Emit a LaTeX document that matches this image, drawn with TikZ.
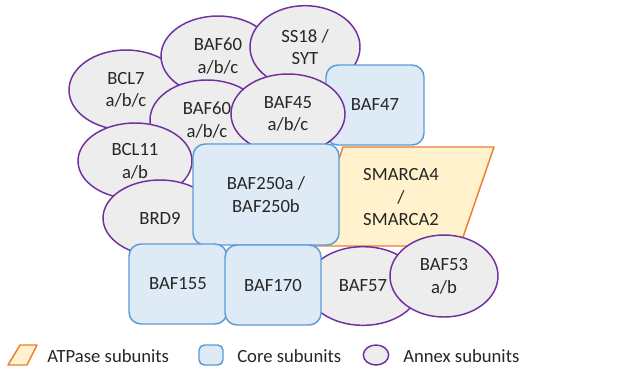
\documentclass[tikz,border=0pt]{standalone}
\usepackage{fontspec}
\setmainfont{Carlito}
\usetikzlibrary{shapes.geometric}

\definecolor{annexfill}{RGB}{237,237,237}
\definecolor{annexline}{RGB}{112,48,160}
\definecolor{corefill}{RGB}{222,235,247}
\definecolor{coreline}{RGB}{91,155,213}
\definecolor{atpfill}{RGB}{255,242,204}
\definecolor{atpline}{RGB}{237,125,49}
\definecolor{labeltext}{RGB}{38,38,38}

\newcommand{\subfont}{\fontsize{14}{17}\selectfont}

\tikzset{
  annex/.style={ellipse, draw=annexline, fill=annexfill, line width=1.1pt,
    minimum width=85.5pt, minimum height=60pt, inner sep=0pt,
    align=center, text=labeltext, font=\subfont},
  core/.style={rectangle, rounded corners=9pt, draw=coreline, fill=corefill,
    line width=1.1pt, inner sep=0pt, align=center, text=labeltext, font=\subfont},
  atpase/.style={draw=atpline, fill=atpfill, line width=1.1pt, line join=round},
  keytext/.style={anchor=west, inner sep=0pt, text=labeltext, font=\subfont},
}

\begin{document}
\begin{tikzpicture}[x=0.75pt,y=0.75pt,yscale=-1,xscale=1]
\useasboundingbox (0,0) rectangle (632,376);

%Shape: Ellipse [annex, back row]
\node[annex] (bclseven) at (126,90) {BCL7\\a/b/c};
\node[annex] (bafsixtyup) at (218,56) {BAF60\\a/b/c};
\node[annex, minimum width=82.5pt, minimum height=62pt] (ssyt) at (305,47) {SS18 /\\SYT};
\node[annex] (bafsixtylow) at (207,120) {BAF60\\a/b/c};
%Shape: Rounded Rect [core]
\node[core, minimum width=73.5pt, minimum height=60pt] (baffortyseven) at (375,105) {BAF47};
%Shape: Ellipse [annex, middle row]
\node[annex] (baffortyfive) at (288,114) {BAF45\\a/b/c};
\node[annex, minimum height=57pt] (bcleleven) at (135,161) {BCL11\\a/b};
\node[annex, minimum height=57pt] (brdnine) at (160,218) {BRD9};

%Shape: Parallelogram [ATPase]
\draw[atpase] (343,147) -- (494,147) -- (460,246) -- (309,246) -- cycle;
% Text Node
\node[align=center, text=labeltext, font=\subfont] (smarca) at (401,197) {SMARCA4\\/\\SMARCA2};

%Shape: Rounded Rect [core]
\node[core, minimum width=109.5pt, minimum height=75.75pt] (baftwofifty) at (266,194.5) {BAF250a /\\BAF250b};

%Shape: Ellipse [annex, front row]
\node[annex, minimum height=59pt] (baffiftyseven) at (363,286) {BAF57};
\node[annex, minimum width=81pt, minimum height=61.5pt] (baffiftythree) at (444,276) {BAF53\\a/b};

%Shape: Rounded Rect [core, front row]
\node[core, minimum width=73.5pt, minimum height=60pt] (baffiftyfive) at (178,284) {BAF155};
\node[core, minimum width=72pt, minimum height=60pt] (bafseventy) at (273,285) {BAF170};

%Legend
\draw[atpase] (20,345) -- (37,345) -- (27,365) -- (8,365) -- cycle;
\node[keytext] (atpkey) at (47,356) {ATPase subunits};
\node[core, rounded corners=4pt, minimum width=18pt, minimum height=15pt] (corebox) at (211,355) {};
\node[keytext] (corekey) at (237,356) {Core subunits};
\node[annex, minimum width=19pt, minimum height=15pt] (annexdot) at (376,355) {};
\node[keytext] (annexkey) at (403,356) {Annex subunits};

\end{tikzpicture}
\end{document}
